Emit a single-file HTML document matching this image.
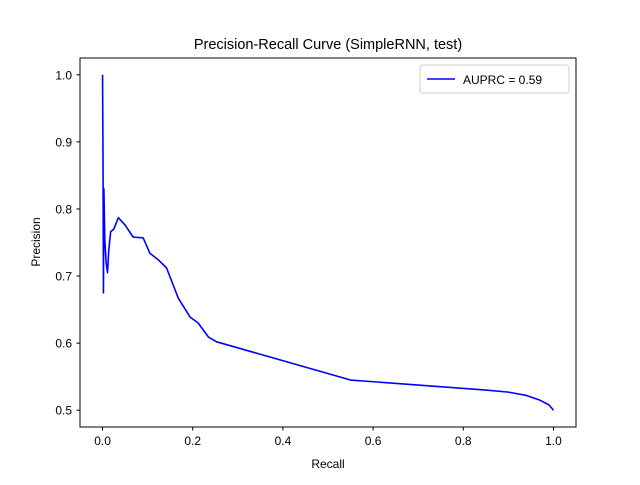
<!DOCTYPE html>
<html><head><meta charset="utf-8"><style>
body{margin:0;background:#fff}
svg text{font-family:"Liberation Sans","DejaVu Sans",sans-serif;fill:#000}
</style></head><body>
<svg id="chart" width="640" height="480">
<rect x="0" y="0" width="640" height="480" fill="#fff"/>
<text x="328" y="49" font-size="14.5" text-anchor="middle">Precision-Recall Curve (SimpleRNN, test)</text>
<g id="ticks"></g>
<polyline id="curve" fill="none" stroke="#0000ff" stroke-width="1.6" stroke-linejoin="round"/>
<rect x="80" y="58" width="496" height="369" fill="none" stroke="#000" stroke-width="1"/>
<text x="328" y="468" font-size="12" text-anchor="middle">Recall</text>
<text transform="translate(40,242) rotate(-90)" font-size="12" text-anchor="middle">Precision</text>
<g>
<rect x="420" y="65" width="149" height="28" rx="3" fill="#fff" stroke="#ccc"/>
<line x1="427" y1="79" x2="455" y2="79" stroke="#0000ff" stroke-width="1.6"/>
<text x="463" y="84" font-size="12">AUPRC = 0.59</text>
</g>
</svg>
<script>
const recall=[0,0.001,0.002,0.003,0.005,0.008,0.011,0.014,0.018,0.025,0.035,0.05,0.068,0.09,0.105,0.124,0.142,0.168,0.194,0.212,0.235,0.253,0.55,0.85,0.9,0.94,0.97,0.99,1.0];
const precision=[1.0,0.88,0.675,0.83,0.754,0.72,0.705,0.74,0.766,0.77,0.787,0.776,0.758,0.757,0.734,0.724,0.712,0.667,0.639,0.630,0.609,0.602,0.545,0.53,0.527,0.522,0.515,0.508,0.5];
const xTicks=[0,0.2,0.4,0.6,0.8,1.0];
const yTicks=[0.5,0.6,0.7,0.8,0.9,1.0];
const xs=v=>80+496*(v+0.05)/1.1;
const ys=v=>427-369*(v-0.475)/0.55;
const svg=document.getElementById('chart');
const g=document.getElementById('ticks');
const NS='http://www.w3.org/2000/svg';
function mk(t,a){const e=document.createElementNS(NS,t);for(const k in a)e.setAttribute(k,a[k]);g.appendChild(e);return e;}
xTicks.forEach(v=>{
 const l=mk('line',{x1:xs(v),x2:xs(v),y1:427,y2:430.5,stroke:'#000'});
 
 
 const t=mk('text',{x:xs(v),y:445,'font-size':12,'text-anchor':'middle'});
 t.textContent=v.toFixed(1);
 
 
});
yTicks.forEach(v=>{
 const l=mk('line',{x1:76.5,x2:80,y1:ys(v),y2:ys(v),stroke:'#000'});
 
 
 const t=mk('text',{x:72,y:ys(v)+4.5,'font-size':12,'text-anchor':'end'});
 t.textContent=v.toFixed(1);
 
 
});
document.getElementById('curve').setAttribute('points',recall.map((r,i)=>xs(r)+','+ys(precision[i])).join(' '));
</script>
</body></html>
